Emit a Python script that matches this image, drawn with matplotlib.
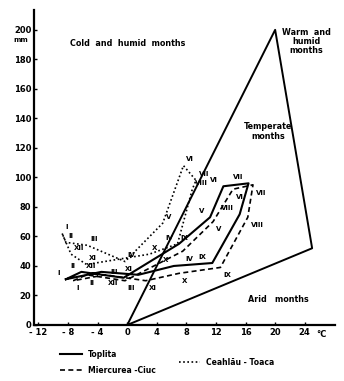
import matplotlib
matplotlib.use("Agg")
import matplotlib.pyplot as plt
from matplotlib.lines import Line2D

# month labels and station values (temperature degC, precipitation mm)
months = ["I", "II", "III", "IV", "V", "VI", "VII", "VIII", "IX", "X", "XI", "XII"]

toplita_t = [-8.3, -6.2, -0.5, 7.0, 11.2, 13.0, 16.4, 15.2, 11.5, 6.3, 1.5, -3.5]
toplita_p = [31, 36, 32, 55, 73, 94, 96, 75, 42, 40, 34, 36]

ciuc_t = [-7.3, -5.5, -0.3, 7.5, 11.6, 14.3, 17.0, 16.3, 12.6, 7.0, 2.5, -3.0]
ciuc_p = [30, 34, 30, 50, 70, 92, 95, 73, 39, 35, 30, 34]

toaca_t = [-8.8, -8.3, -5.4, -0.3, 4.8, 7.6, 9.3, 8.8, 6.8, 3.0, -5.5, -7.6]
toaca_p = [62, 56, 54, 43, 69, 108, 98, 92, 55, 48, 41, 48]

# climate zone triangle
zone_t = [0, 20, 25, 0]
zone_p = [0, 200, 52, 0]

x_ticks = [-12, -8, -4, 0, 4, 8, 12, 16, 20, 24]
y_ticks = [0, 20, 40, 60, 80, 100, 120, 140, 160, 180, 200]

fig = plt.figure(figsize=(3.44, 3.81), dpi=100)
ax = fig.add_axes([0.099, 0.147, 0.875, 0.827])

ax.plot(zone_t, zone_p, color="black", lw=1.4)

def loop(v):
    return v + v[:1]

ax.plot(loop(toplita_t), loop(toplita_p), color="black", lw=1.5, ls="-")
ax.plot(loop(ciuc_t), loop(ciuc_p), color="black", lw=1.2, ls=(0, (3, 2)))
ax.plot(loop(toaca_t), loop(toaca_p), color="black", lw=1.2, ls=(0, (1, 1.5)))

lab = dict(fontsize=5, fontweight="bold", color="black")
for m, t, p in zip(months, toplita_t, toplita_p):
    ax.annotate(m, (t, p), xytext=(-4, 3), textcoords="offset points", ha="right", **lab)
for m, t, p in zip(months, ciuc_t, ciuc_p):
    ax.annotate(m, (t, p), xytext=(2, -7), textcoords="offset points", ha="left", **lab)
for m, t, p in zip(months, toaca_t, toaca_p):
    ax.annotate(m, (t, p), xytext=(2, 3), textcoords="offset points", ha="left", **lab)

zt = dict(fontsize=5.8, fontweight="bold", ha="center", va="center")
ax.text(0, 191, "Cold  and  humid  months", **zt)
ax.text(24.2, 192, "Warm  and\nhumid\nmonths", linespacing=1.0, **zt)
ax.text(19, 131, "Temperate\nmonths", linespacing=1.2, **zt)
ax.text(20.5, 17, "Arid   months", **zt)

ax.set_xlim(-12.6, 28.1)
ax.set_ylim(0, 213.5)
ax.set_xticks(x_ticks)
ax.set_yticks(y_ticks)
ax.set_xticklabels([str(v).replace("-", "- ") if v < 0 else str(v) for v in x_ticks])
ax.tick_params(direction="in", length=2.5, width=1, labelsize=6, pad=2)
for lbl in ax.get_xticklabels() + ax.get_yticklabels():
    lbl.set_fontweight("bold")
ax.text(26.3, -3.2, "°C", fontsize=6, fontweight="bold", ha="center", va="top")
ax.text(-13.4, 193, "mm", fontsize=5, fontweight="bold", ha="right", va="center")

for s in ["top", "right"]:
    ax.spines[s].set_visible(False)
ax.spines["left"].set_linewidth(1.6)
ax.spines["bottom"].set_linewidth(1.6)

h1 = [Line2D([], [], color="black", lw=1.5, ls="-"),
      Line2D([], [], color="black", lw=1.2, ls=(0, (3, 2)))]
fig.legend(h1, ["Toplita", "Miercurea -Ciuc"], loc="upper left",
           bbox_to_anchor=(0.155, 0.1), frameon=False, handlelength=2.8,
           labelspacing=0.9, prop=dict(size=5.5, weight="bold"))
h2 = [Line2D([], [], color="black", lw=1.2, ls=(0, (1, 1.5)))]
fig.legend(h2, ["Ceahlău - Toaca"], loc="upper left", bbox_to_anchor=(0.5, 0.078),
           frameon=False, handlelength=2.8, prop=dict(size=5.5, weight="bold"))

fig.savefig("out.png", dpi=100)
